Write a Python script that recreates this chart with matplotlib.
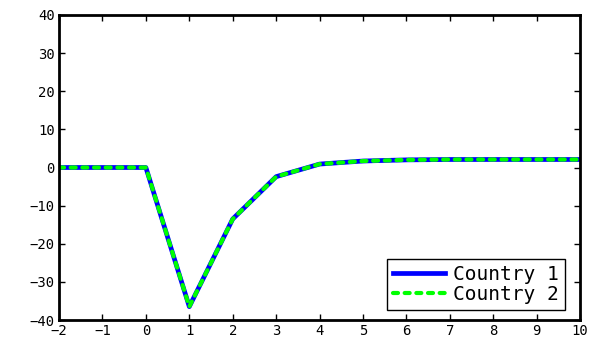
import matplotlib
matplotlib.use("Agg")
from matplotlib import pyplot as plt

periods = [-2, -1, 0, 1, 2, 3, 4, 5, 6, 7, 8, 9, 10]
country_1 = [0, 0, 0, -36.5, -13.5, -2.4, 0.9, 1.7, 2.0, 2.1, 2.1, 2.1, 2.1]
country_2 = [0, 0, 0, -36.5, -13.5, -2.4, 0.9, 1.7, 2.0, 2.1, 2.1, 2.1, 2.1]

plt.rcParams['font.family'] = ['DejaVu Sans Mono']
fig = plt.figure(figsize=(5.92, 3.37), dpi=100)
ax = fig.add_axes([0.0997, 0.0504, 0.8803, 0.9051])

ax.plot(periods, country_1, color='#0000ff', lw=3.4, label='Country 1')
ax.plot(periods, country_2, color='#00ff00', lw=3.0, ls=(0, (1.2, 1.6)),
        dash_capstyle='round', label='Country 2')

ax.set_xlim(-2, 10)
ax.set_ylim(-40, 40)
ax.set_xticks(range(-2, 11))
ax.set_yticks(range(-40, 41, 10))
ax.tick_params(direction='in', top=True, right=True, length=4, width=1, labelsize=10, pad=3)
for s in ax.spines.values():
    s.set_linewidth(2)

leg = ax.legend(loc='lower right', fontsize=14, fancybox=False, framealpha=1,
                edgecolor='black', borderpad=0.3, handlelength=2.7, handletextpad=0.4,
                labelspacing=0.05, borderaxespad=0, bbox_to_anchor=(0.97, 0.033))
leg.get_frame().set_linewidth(1)

fig.savefig("out.png", dpi=100)
